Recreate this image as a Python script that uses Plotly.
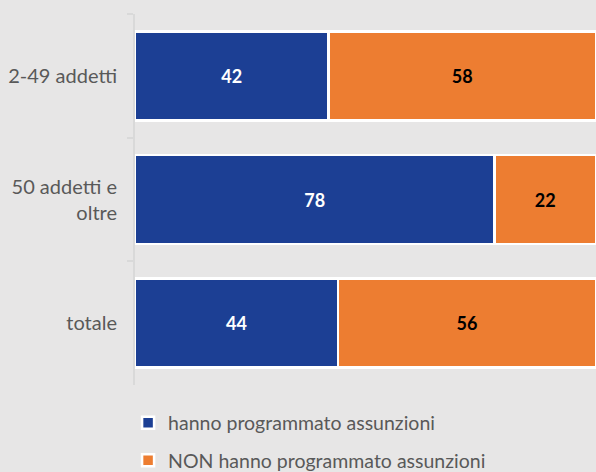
import plotly.graph_objects as go

categories = ["2-49 addetti", "50 addetti e<br>oltre", "totale"]
hanno = [42, 78, 44]
non_hanno = [58, 22, 56]
series_names = ["hanno programmato assunzioni", "NON hanno programmato assunzioni"]

BLUE = "#1c3f94"
ORANGE = "#ed7d31"
BG = "#e7e6e6"
FONT = "Lato"

fig = go.Figure()
fig.add_trace(go.Bar(
    y=categories, x=hanno, orientation="h", name=series_names[0],
    marker=dict(color=BLUE, line=dict(color="white", width=2.5)),
    texttemplate="<b>%{x}</b>", textposition="inside", insidetextanchor="middle",
    textfont=dict(color="white", size=18, family=FONT),
    legend="legend",
))
fig.add_trace(go.Bar(
    y=categories, x=non_hanno, orientation="h", name=series_names[1],
    marker=dict(color=ORANGE, line=dict(color="white", width=2.5)),
    texttemplate="<b>%{x}</b>", textposition="inside", insidetextanchor="middle",
    textfont=dict(color="black", size=18, family=FONT),
    legend="legend2",
))

fig.update_layout(
    barmode="stack",
    bargap=0.28,
    width=596, height=472,
    margin=dict(l=135, r=0, t=14, b=87, autoexpand=False),
    paper_bgcolor=BG, plot_bgcolor=BG,
    font=dict(family=FONT, size=20, color="#595959"),
    uniformtext=dict(minsize=10, mode="show"),
    xaxis=dict(range=[0, 100], showgrid=False, zeroline=False, showticklabels=False,
               showline=False, fixedrange=True),
    yaxis=dict(range=[2.5, -0.5], showgrid=False, zeroline=False, showline=True,
               linecolor="#d9d9d9", linewidth=2, ticks="outside", tickson="boundaries",
               ticklen=6, tickcolor="#d9d9d9", tickwidth=2, ticklabelstandoff=12,
               tickfont=dict(size=20, color="#595959")),
    legend=dict(x=-0.015, y=-0.1024, xanchor="left", yanchor="middle",
                bgcolor="rgba(0,0,0,0)", font=dict(size=19.5, color="#595959")),
    legend2=dict(x=-0.015, y=-0.204, xanchor="left", yanchor="middle",
                 bgcolor="rgba(0,0,0,0)", font=dict(size=19.5, color="#595959")),
    showlegend=True,
)

fig.write_html(
    "out.html",
    config={"displayModeBar": False},
    post_script="document.body.style.margin='0';document.body.style.overflow='hidden';",
)
